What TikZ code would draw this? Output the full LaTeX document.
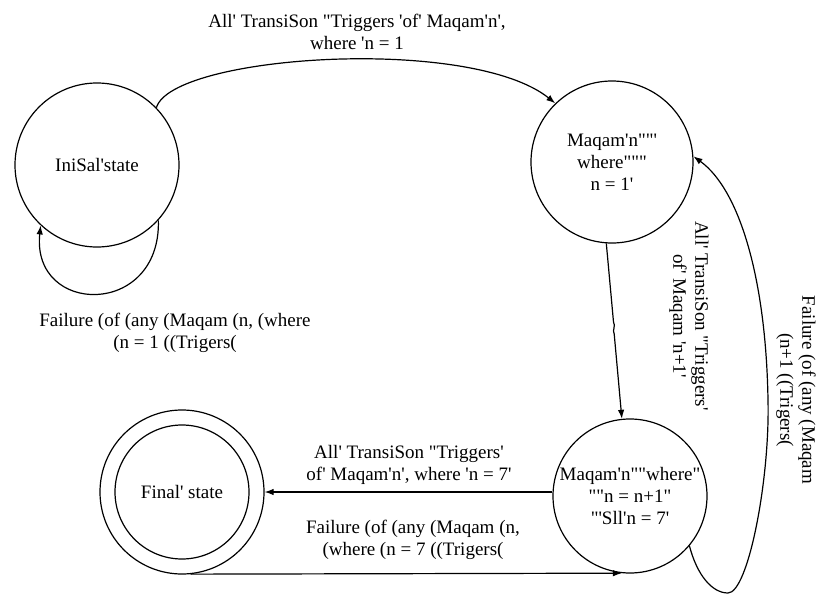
\documentclass[tikz,border=0pt]{standalone}
\usepackage{fontspec}
\setmainfont{Liberation Serif}[Ligatures=TeXOff]
\usetikzlibrary{arrows.meta}
\begin{document}
\begin{tikzpicture}[x=1pt,y=-1pt,
  every node/.style={font=\fontsize{19}{22}\selectfont},
  state/.style={draw,circle,line width=1.2pt,inner sep=0pt,align=center},
  lbl/.style={inner sep=0pt,align=center},
  arr/.style={line width=1.2pt,-{Latex[length=9pt,width=6.5pt]}}]
\useasboundingbox (0,0) rectangle (817,594);
\node[state,minimum size=164pt] (init) at (97,165) {IniSal'state};
\node[state,minimum size=162pt] (m1) at (612,162) {Maqam'n""'\\where"""\\n = 1'};
\node[state,minimum size=154pt] (m2) at (630,496) {Maqam'n""where"\\""n = n+1"\\"'Sll'n = 7'};
\node[state,minimum size=164pt] (final) at (182,492) {};
\node[state,minimum size=134pt] (finalin) at (182,492) {Final' state};
% edges
\draw[arr] (init.44) .. controls (172,55) and (470,35) .. (m1.134);
\draw[arr] (init.-42) .. controls (161,318) and (31,316) .. (init.-133);
\draw[arr] (m1.-94) -- (613.5,322) .. controls (616,326) and (612,330) .. (614.2,334) -- (m2.96);
\draw[arr] (final.east -| m2.west) -- (final.east);
\draw[arr] (final.-84) -- (m2.-96);
\draw[arr] (m2.-40) .. controls (697,575) and (712,593) .. (728,593)
  .. controls (748,593) and (770,480) .. (768,400)
  .. controls (766,280) and (740,190) .. (m1.4);
% labels
\node[lbl] (l1) at (357,31.5) {All' TransiSon "Triggers 'of' Maqam'n',\\where 'n = 1};
\node[lbl] (l2) at (175,333) {Failure (of (any (Maqam (n, (where\\(n = 1 ((Trigers(};
\node[lbl] (l3) at (409,465) {All' TransiSon "Triggers'\\of' Maqam'n', where 'n = 7'};
\node[lbl] (l4) at (413,540) {Failure (of (any (Maqam (n,\\(where (n = 7 ((Trigers(};
\node[lbl,rotate=-90] (l5) at (689,316) {All' TransiSon "Triggers'\\of' Maqam 'n+1'};
\node[lbl,rotate=-90] (l6) at (796,390) {Failure (of (any (Maqam\\(n+1 ((Trigers(};
\end{tikzpicture}
\end{document}
